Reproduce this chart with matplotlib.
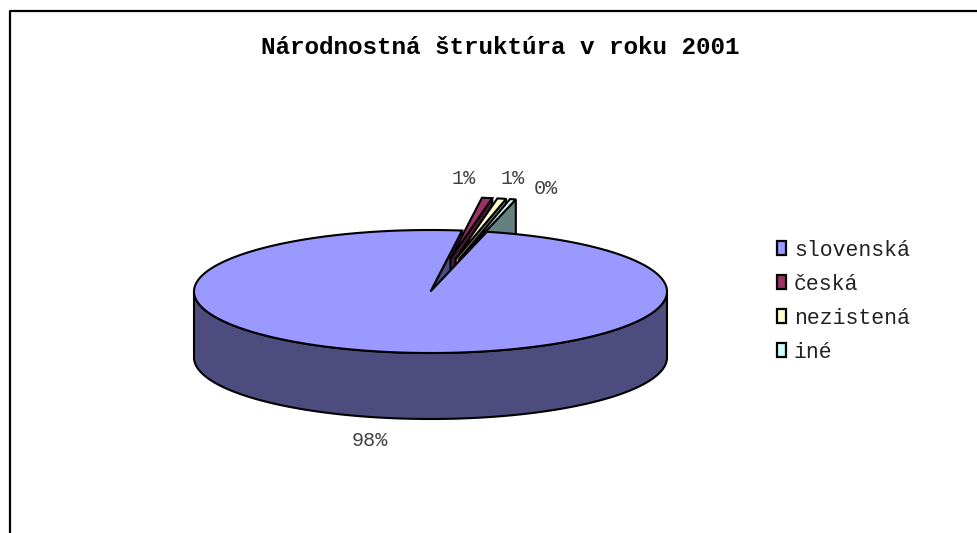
import numpy as np
import matplotlib
matplotlib.use("Agg")
import matplotlib.pyplot as plt
from matplotlib.patches import Polygon, Patch

# ---- data ----
title = "Národnostná štruktúra v roku 2001"
categories = ["slovenská", "česká", "nezistená", "iné"]
values = [98.3, 0.7, 0.6, 0.4]
label_texts = ["98%", "1%", "1%", "0%"]
top_colors = ["#9999FF", "#993366", "#FFFFCC", "#CCFFFF"]
side_colors = ["#4C4C7F", "#4C1933", "#7F7F66", "#667F7F"]
explode = [0.0, 0.54, 0.54, 0.54]

# ---- layout ----
W, H = 978, 533
fig = plt.figure(figsize=(W / 100, H / 100), dpi=100)
ax = fig.add_axes([0, 0, 1, 1])
ax.set_xlim(0, W)
ax.set_ylim(H, 0)
ax.axis("off")

cx, cy = 430.5, 291.5     # centre of top face (pixels)
a, b = 236.5, 61.5        # semi axes
depth = 66.0
start = 13.8              # first slice angle, degrees clockwise from top

def pt(phi, off=(0, 0), dz=0.0):
    r = np.radians(phi)
    return (cx + off[0] + a * np.sin(r), cy + off[1] - b * np.cos(r) + dz)

def arc(p1, p2, off=(0, 0), dz=0.0, n=200):
    ph = np.linspace(p1, p2, n)
    r = np.radians(ph)
    return np.column_stack([cx + off[0] + a * np.sin(r), cy + off[1] - b * np.cos(r) + dz])

tot = sum(values)
angles = []
cur = start
for v in values:
    span = v / tot * 360.0
    angles.append((cur, cur + span))
    cur += span

lw = 1.5
ec = "black"

# slovenská end cut face (visible inside the gap)
s0, s1 = angles[0]
c_top = (cx, cy)
c_bot = (cx, cy + depth)
e_top = pt(s1)
e_bot = pt(s1, dz=depth)
ax.add_patch(Polygon([c_top, e_top, e_bot, c_bot], closed=True,
                     facecolor=side_colors[0], edgecolor=ec, lw=lw, zorder=1))

# exploded small slices
for i in range(1, len(values)):
    p1, p2 = angles[i]
    pm = np.radians((p1 + p2) / 2)
    off = (explode[i] * a * np.sin(pm), -explode[i] * b * np.cos(pm))
    ctop = (cx + off[0], cy + off[1])
    cbot = (cx + off[0], cy + off[1] + depth)
    rt = pt(p2, off)
    rb = pt(p2, off, depth)
    ax.add_patch(Polygon([ctop, rt, rb, cbot], closed=True,
                         facecolor=side_colors[i], edgecolor=ec, lw=lw, zorder=2 + i))
    top = np.vstack([[ctop], arc(p1, p2, off, n=20)])
    ax.add_patch(Polygon(top, closed=True, facecolor=top_colors[i],
                         edgecolor=ec, lw=lw, zorder=2 + i))

# slovenská side (front half) and top
side_top = arc(90, 270)
side_bot = arc(270, 90, dz=depth)
ax.add_patch(Polygon(np.vstack([side_top, side_bot]), closed=True,
                     facecolor=side_colors[0], edgecolor=ec, lw=lw, zorder=10))
top0 = np.vstack([[c_top], arc(s0, s1, n=400)])
ax.add_patch(Polygon(top0, closed=True, facecolor=top_colors[0],
                     edgecolor=ec, lw=lw, zorder=11))

# data labels
lab_pos = [(370, 440), (464, 179), (513, 179), (546, 189)]
for (x, y), t in zip(lab_pos, label_texts):
    ax.text(x, y, t, ha="center", va="center", fontsize=14.5,
            family="Liberation Mono", color="#404040", zorder=20)

# title
ax.text(500, 47, title, ha="center", va="center", fontsize=17.5,
        family="Liberation Mono", fontweight="bold", color="black")

# legend
handles = [Patch(facecolor=c, edgecolor="black", lw=1.6) for c in top_colors]
leg = ax.legend(handles, categories, loc="upper left",
                bbox_to_anchor=(766 / W, 1 - 229 / H), bbox_transform=fig.transFigure,
                frameon=False, prop={"family": "Liberation Mono", "size": 15.5},
                handlelength=0.45, handleheight=0.65, handletextpad=0.35,
                labelspacing=0.6, borderpad=0.0)
for t in leg.get_texts():
    t.set_color("#222222")

# chart frame
ax.plot([9.5, 9.5, W], [H, 10.5, 10.5], color="black", lw=1.6, solid_capstyle="butt", zorder=30)

fig.savefig("out.png", dpi=100)
